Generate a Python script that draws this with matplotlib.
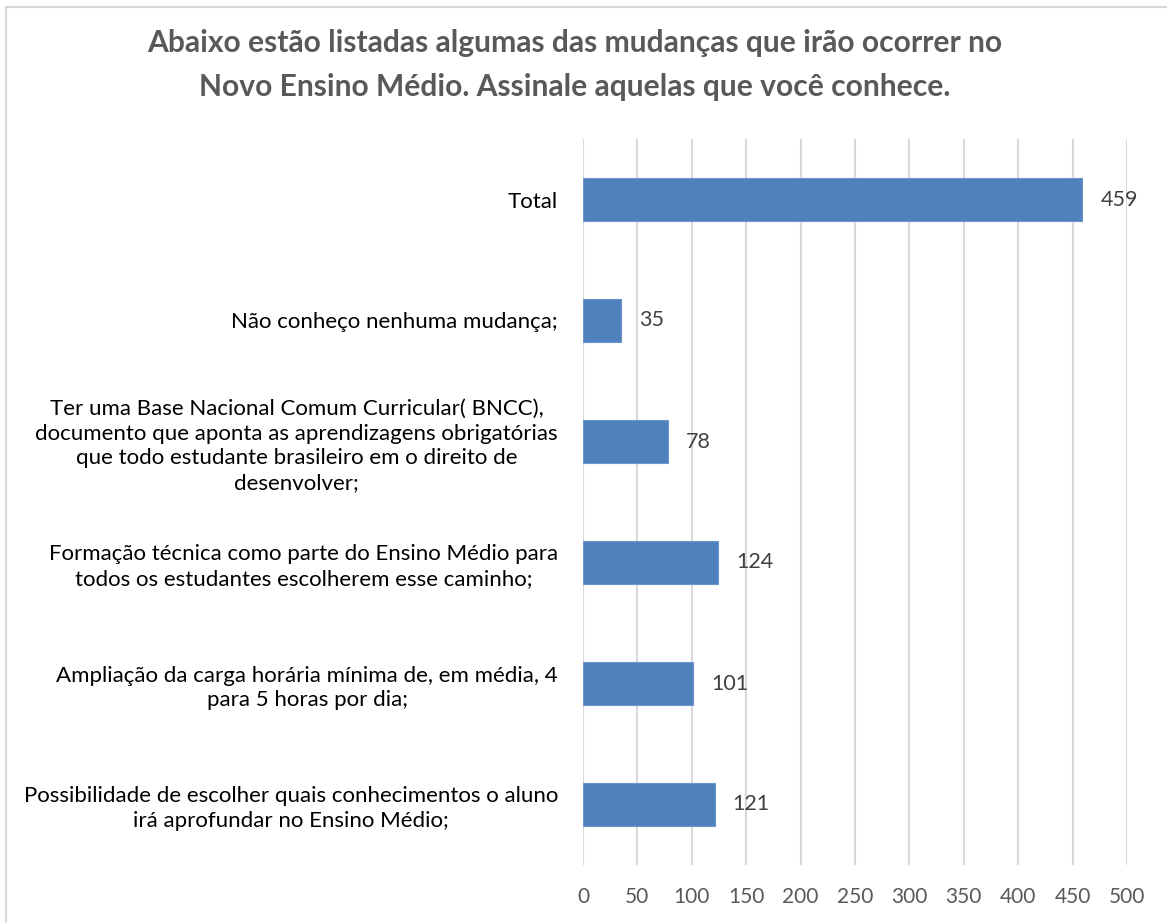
import matplotlib
matplotlib.use("Agg")
import matplotlib.pyplot as plt
from matplotlib.patches import Rectangle

plt.rcParams['font.family'] = ['Lato', 'DejaVu Sans']

categories = [
    "Total",
    "Não conheço nenhuma mudança;",
    "Ter uma Base Nacional Comum Curricular( BNCC),\ndocumento que aponta as aprendizagens obrigatórias\nque todo estudante brasileiro em o direito de\ndesenvolver;",
    "Formação técnica como parte do Ensino Médio para\ntodos os estudantes escolherem esse caminho;",
    "Ampliação da carga horária mínima de, em média, 4\npara 5 horas por dia;",
    "Possibilidade de escolher quais conhecimentos o aluno\nirá aprofundar no Ensino Médio;",
]
values = [459, 35, 78, 124, 101, 121]
x_ticks = [0, 50, 100, 150, 200, 250, 300, 350, 400, 450, 500]
title = "Abaixo estão listadas algumas das mudanças que irão ocorrer no\nNovo Ensino Médio. Assinale aquelas que você conhece."

W, H = 1167, 923
fig = plt.figure(figsize=(W / 100, H / 100), dpi=100)
fig.patch.set_facecolor("white")

# chart frame (top/left edges visible)
fig.patches.append(Rectangle((6 / W, -0.05), 1.2, (H - 7) / H + 0.05,
                             transform=fig.transFigure, fill=False,
                             edgecolor="#D9D9D9", linewidth=1.5))

ax = fig.add_axes([583 / W, 1 - 865 / H, (1127 - 583) / W, (865 - 139) / H])
pos = list(range(len(categories)))
ax.barh(pos, values, height=0.35, color="#4F81BD", edgecolor="#6A96CC",
        linewidth=0.8, zorder=3)
ax.set_ylim(len(categories) - 0.5, -0.5)
ax.set_xlim(0, 500)
ax.set_xticks(x_ticks)
ax.set_yticks(pos)
ax.set_yticklabels(categories)
for t in ax.get_yticklabels():
    t.set_multialignment("center")
    t.set_linespacing(1.3)
ax.tick_params(axis="y", length=0, pad=18, labelsize=16, labelcolor="#000000")
ax.tick_params(axis="x", length=0, pad=16, labelsize=15, labelcolor="#595959")
ax.grid(axis="x", color="#D9D9D9", linewidth=1.5, zorder=0)
for s in ax.spines.values():
    s.set_visible(False)

for p, v in zip(pos, values):
    ax.annotate(str(v), (v, p), xytext=(13, 0), textcoords="offset points",
                ha="left", va="center", fontsize=15.5, color="#404040")

fig.text(575 / W, 1 - 65 / H, title, ha="center", va="center",
         fontsize=21.6, fontweight="bold", color="#595959", linespacing=1.7)

fig.savefig("out.png", dpi=100, facecolor="white")
